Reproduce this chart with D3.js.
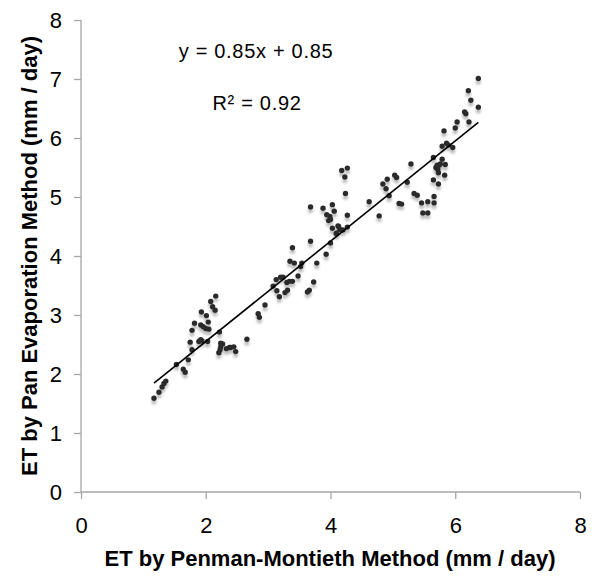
<!DOCTYPE html>
<html lang="en">
  <head>
    <meta charset="UTF-8" />
    <title>ET scatter</title>
    <script src="https://cdn.jsdelivr.net/npm/d3@7"></script>
    <style>
      body { margin: 0; background: #fff; }
      svg { font-family: "Liberation Sans", Arial, sans-serif; }
    </style>
  </head>
  <body>
    <svg width="600" height="587"></svg>
    <script>
      // Penman-Montieth ET (x) vs Pan Evaporation ET (y), mm/day
      const xVals = [
        1.17, 1.25, 1.30, 1.33, 1.36, 1.53, 1.64, 1.67, 1.72, 1.75, 1.78, 1.78, 1.82, 1.89, 1.92,
        1.94, 1.92, 1.96, 2.00, 2.05, 1.93, 2.01, 2.04, 2.03, 2.08, 2.11, 2.15, 2.16, 2.22, 2.24,
        2.27, 2.24, 2.23, 2.21, 2.33, 2.38, 2.40, 2.45, 2.48, 2.66, 2.84, 2.86, 2.95,
        3.08, 3.13, 3.14, 3.18, 3.20, 3.24, 3.27, 3.31, 3.30, 3.34, 3.39, 3.48, 3.35, 3.42, 3.52,
        3.54, 3.39, 3.63, 3.66, 3.73, 3.78, 3.68, 3.68, 3.88, 4.03, 3.94, 3.99, 3.97, 4.00, 4.06,
        3.93, 4.00, 4.03, 4.09, 4.13, 4.18, 4.27, 4.23, 4.24, 4.27, 4.12, 4.15, 4.10, 4.20, 4.27,
        4.62, 4.78, 4.84, 4.91, 4.89, 4.94, 5.03, 5.06, 5.23, 5.29, 5.10, 5.14, 5.34, 5.39, 5.46,
        5.56, 5.66, 5.48, 5.56, 5.66, 5.65, 5.65, 5.73, 5.70, 5.73, 5.71,
        6.37, 6.21, 6.25, 6.37, 6.15, 6.17, 6.03, 6.00, 6.22, 5.82, 5.79, 5.86, 5.89, 5.96,
        5.79, 5.76, 5.74, 5.72, 5.69, 5.84, 5.83
      ];
      const yVals = [
        1.59, 1.69, 1.78, 1.84, 1.88, 2.16, 2.08, 2.03, 2.24, 2.54, 2.41, 2.74, 2.86, 2.55, 2.58,
        2.56, 2.83, 2.80, 2.77, 2.76, 3.05, 2.99, 2.88, 2.55, 3.23, 3.14, 3.08, 3.32, 2.71, 2.52,
        2.51, 2.46, 2.41, 2.36, 2.43, 2.45, 2.45, 2.46, 2.38, 2.59, 3.02, 2.96, 3.17,
        3.49, 3.60, 3.41, 3.31, 3.64, 3.64, 3.38, 3.42, 3.55, 3.57, 3.57, 3.66, 3.91, 3.88, 3.82,
        3.88, 4.14, 3.39, 3.42, 3.56, 3.88, 4.25, 4.83, 4.81, 4.87, 4.70, 4.67, 4.60, 4.62, 4.76,
        4.03, 4.22, 4.47, 4.38, 4.50, 5.45, 5.49, 5.34, 5.06, 4.69, 4.51, 4.45, 4.39, 4.44, 4.49,
        4.92, 4.68, 5.22, 5.30, 5.14, 5.02, 5.37, 5.33, 5.25, 5.56, 4.89, 4.88, 5.06, 5.03, 4.90,
        4.92, 4.90, 4.73, 4.73, 5.01, 5.29, 5.67, 5.22, 5.49, 5.41, 5.54,
        7.01, 6.80, 6.64, 6.52, 6.44, 6.41, 6.27, 6.17, 6.27, 6.12, 5.86, 5.91, 5.88, 5.84,
        5.64, 5.56, 5.54, 5.47, 5.50, 5.55, 5.37
      ];
      const xTicks = [0, 2, 4, 6, 8];
      const yTicks = [0, 1, 2, 3, 4, 5, 6, 7, 8];
      const slope = 0.85;
      const intercept = 0.85;
      const eqLabel = "y = 0.85x + 0.85";
      const r2Label = "R² = 0.92";

      const svg = d3.select("svg");
      const padL = 81, padR = 580, padT = 20, padB = 492;

      const x = d3.scaleLinear().domain([0, 8]).range([padL, padR]);
      const y = d3.scaleLinear().domain([0, 8]).range([padB, padT]);

      const defs = svg.append("defs");
      const f = defs.append("filter").attr("id", "shadow")
        .attr("x", "-100%").attr("y", "-100%").attr("width", "300%").attr("height", "400%");
      f.append("feDropShadow").attr("dx", 0).attr("dy", 3.5).attr("stdDeviation", 1.3)
        .attr("flood-color", "#888").attr("flood-opacity", 0.55);

      // axes
      const xAxis = svg.append("g")
        .attr("transform", `translate(0,${padB})`)
        .call(d3.axisBottom(x).tickValues(xTicks).tickSize(7).tickPadding(18));
      const yAxis = svg.append("g")
        .attr("transform", `translate(${padL},0)`)
        .call(d3.axisLeft(y).tickValues(yTicks).tickSize(7).tickPadding(12));

      [xAxis, yAxis].forEach(a => {
        a.select(".domain").attr("stroke", "#a6a6a6").attr("stroke-width", 1.3);
        a.selectAll(".tick line").attr("stroke", "#a6a6a6").attr("stroke-width", 1.3);
        a.selectAll(".tick text").attr("fill", "#000")
          .style("font-size", "22px").style("font-family", "Liberation Sans, Arial, sans-serif");
      });
      // keep the axes as plain lines without end caps
      xAxis.select(".domain").attr("d", `M${padL},0H${padR}`);
      yAxis.select(".domain").attr("d", `M0,${padB}V${padT}`);

      // points
      const pts = xVals.map((v, i) => ({ x: v, y: yVals[i] }));
      svg.append("g").attr("filter", "url(#shadow)")
        .selectAll("circle")
        .data(pts)
        .join("circle")
        .attr("cx", d => x(d.x))
        .attr("cy", d => y(d.y))
        .attr("r", 2.7)
        .attr("fill", "#2b2b2b");

      // linear trendline
      const [x0, x1] = d3.extent(xVals);
      svg.append("line")
        .attr("x1", x(x0)).attr("y1", y(slope * x0 + intercept))
        .attr("x2", x(x1)).attr("y2", y(slope * x1 + intercept))
        .attr("stroke", "#000").attr("stroke-width", 1.6);

      // equation labels
      svg.append("text").attr("x", 256).attr("y", 58).attr("text-anchor", "middle")
        .style("font-size", "20px").style("letter-spacing", "0.7px").text(eqLabel);
      svg.append("text").attr("x", 257).attr("y", 110).attr("text-anchor", "middle")
        .style("font-size", "20px").style("letter-spacing", "0.7px").text(r2Label);

      // axis titles
      svg.append("text").attr("x", 330).attr("y", 566).attr("text-anchor", "middle")
        .style("font-size", "22px").style("font-weight", "bold")
        .text("ET by Penman-Montieth Method (mm / day)");
      svg.append("text")
        .attr("transform", "translate(37,256) rotate(-90)")
        .attr("text-anchor", "middle")
        .style("font-size", "22px").style("font-weight", "bold")
        .text("ET by Pan Evaporation Method (mm / day)");
    </script>
  </body>
</html>
